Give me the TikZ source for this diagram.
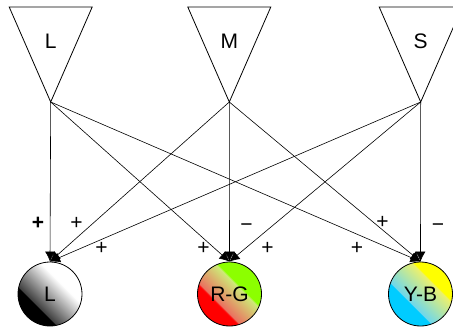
\documentclass[tikz,border=0pt]{standalone}
\usepackage{fontspec}
\setmainfont{Liberation Sans}
\usetikzlibrary{arrows.meta}
\definecolor{chartreuse}{RGB}{140,255,0}
\definecolor{skyblue}{RGB}{0,204,255}
\definecolor{salmon}{RGB}{235,110,95}
\definecolor{palelime}{RGB}{205,235,120}
\definecolor{palecyan}{RGB}{110,215,235}
\definecolor{paleyellow}{RGB}{235,240,110}
\pgfdeclarehorizontalshading{lumshade}{100bp}{color(0bp)=(black); color(36bp)=(black);
    color(36.5bp)=(black!75); color(62bp)=(white); color(100bp)=(white)}
\pgfdeclarehorizontalshading{rgshade}{100bp}{color(0bp)=(red); color(38bp)=(red);
    color(38.5bp)=(salmon); color(59bp)=(palelime); color(60bp)=(chartreuse); color(100bp)=(chartreuse)}
\pgfdeclarehorizontalshading{ybshade}{100bp}{color(0bp)=(skyblue); color(39bp)=(skyblue);
    color(39.5bp)=(palecyan); color(62.5bp)=(paleyellow); color(63.5bp)=(yellow); color(100bp)=(yellow)}
\begin{document}
\begin{tikzpicture}[x=1pt,y=-1pt,
    cone/.style={draw,line width=0.8pt},
    cell/.style={circle,draw,line width=0.8pt,minimum size=64pt,inner sep=0pt,
        font=\fontsize{21}{25}\selectfont},
    wire/.style={line width=0.6pt,-{Latex[length=10pt,width=10pt]}},
    sign/.style={inner sep=0pt,font=\fontsize{21}{25}\selectfont}]
    \useasboundingbox (0,0) rectangle (453,329);
    % cones
    \foreach \x/\name in {50.7/L,229.3/M,420.7/S} {
        \coordinate (\name tip) at (\x,102);
        \draw[cone] (\x-41.5,7) -- (\x+41.5,7) -- (\name tip) -- cycle;
        \node[font=\fontsize{21}{25}\selectfont] (\name cone) at (\x,41) {\name};
    }
    % opponent cells
    \node[cell,shading=lumshade,shading angle=45] (lum) at (50,294) {L};
    \node[cell,shading=rgshade,shading angle=45] (rg) at (229.5,294) {R-G};
    \node[cell,shading=ybshade,shading angle=45] (yb) at (420.5,294) {Y-B};
    % connections
    \foreach \a in {L,M,S}
        \foreach \b in {lum,rg,yb}
            \draw[wire] (\a tip) -- (\b.north);
    % signs
    \node[sign,font=\bfseries\fontsize{21}{25}\selectfont] (sign0) at (38,223) {+};
    \foreach \x/\y/\s [count=\i] in {
        76.5/223/+, 101.5/248.5/+,
        203.5/248.5/+, 246.5/227.5/−, 267.5/248.5/+,
        382.5/222.5/+, 438/227.5/−, 357/248.5/+
    } {
        \node[sign] (sign\i) at (\x,\y) {\s};
    }
\end{tikzpicture}
\end{document}
